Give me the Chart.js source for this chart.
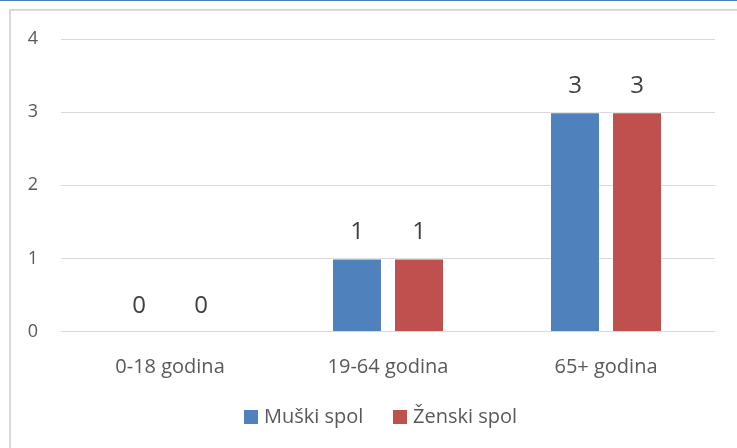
<!DOCTYPE html>
<html>
<head>
<meta charset="utf-8">
<script src="https://cdn.jsdelivr.net/npm/chart.js@4.4.0/dist/chart.umd.min.js"></script>
<style>
  html, body { margin: 0; padding: 0; background: #fff; }
  #wrap { position: relative; width: 737px; height: 448px; overflow: hidden; }
  #topline { position: absolute; left: 0; top: 0; width: 737px; height: 1px; background: #4a7ebf; }
  #frame { position: absolute; left: 9px; top: 9px; width: 760px; height: 460px; border-left: 2px solid #d9d9d9; border-top: 2px solid #d9d9d9; box-sizing: border-box; }
  canvas { position: absolute; left: 0; top: 0; }
</style>
</head>
<body>
<div id="wrap">
  <div id="topline"></div>
  <div id="frame"></div>
  <canvas id="c" width="737" height="448"></canvas>
</div>
<script>
const categories = ['0-18 godina', '19-64 godina', '65+ godina'];
const seriesNames = ['Muški spol', 'Ženski spol'];
const muski = [0, 1, 3];
const zenski = [0, 1, 3];
const yTicks = [0, 1, 2, 3, 4];

const colors = ['#4f81bd', '#c0504d'];
const FONT = '"Open Sans", "Liberation Sans", sans-serif';

const dataLabels = {
  id: 'dataLabels',
  afterDatasetsDraw(chart) {
    const ctx = chart.ctx;
    ctx.save();
    ctx.font = '24px ' + FONT;
    ctx.fillStyle = '#404040';
    ctx.textAlign = 'center';
    ctx.textBaseline = 'alphabetic';
    chart.data.datasets.forEach((ds, di) => {
      const meta = chart.getDatasetMeta(di);
      meta.data.forEach((el, i) => {
        ctx.fillText(String(ds.data[i]), el.x, el.y - 19);
      });
    });
    ctx.restore();
  }
};

const customLegend = {
  id: 'customLegend',
  afterDraw(chart) {
    const ctx = chart.ctx;
    ctx.save();
    ctx.font = '20px ' + FONT;
    ctx.textBaseline = 'alphabetic';
    ctx.textAlign = 'left';
    const boxes = [244, 393];
    chart.data.datasets.forEach((ds, di) => {
      const x = boxes[di];
      ctx.fillStyle = ds.backgroundColor;
      ctx.fillRect(x, 410, 14, 14);
      ctx.fillStyle = '#595959';
      ctx.fillText(ds.label, x + 20, 423);
    });
    ctx.restore();
  }
};

new Chart(document.getElementById('c'), {
  type: 'bar',
  data: {
    labels: categories,
    datasets: [
      { label: seriesNames[0], data: muski, backgroundColor: colors[0], borderColor: 'rgba(255,255,255,0.45)', borderWidth: 1,
        categoryPercentage: 0.569, barPercentage: 0.806 },
      { label: seriesNames[1], data: zenski, backgroundColor: colors[1], borderColor: 'rgba(255,255,255,0.45)', borderWidth: 1,
        categoryPercentage: 0.569, barPercentage: 0.806 }
    ]
  },
  options: {
    responsive: false,
    animation: false,
    layout: { padding: { top: 39, right: 22, bottom: 0, left: 0 } },
    plugins: {
      legend: { display: false },
      tooltip: { enabled: false }
    },
    scales: {
      x: {
        grid: { display: false },
        border: { display: false },
        ticks: { color: '#595959', font: { family: FONT, size: 20 }, padding: 16, maxRotation: 0 },
        afterFit(scale) { scale.height = 116.5; }
      },
      y: {
        min: 0, max: 4,
        afterBuildTicks(scale) { scale.ticks = yTicks.map(v => ({ value: v })); },
        grid: { color: '#d9d9d9', lineWidth: 1, drawTicks: false },
        border: { display: false },
        ticks: { color: '#595959', font: { family: FONT, size: 18 }, padding: 23 },
        afterFit(scale) { scale.width = 61; }
      }
    }
  },
  plugins: [dataLabels, customLegend]
});
</script>
</body>
</html>
